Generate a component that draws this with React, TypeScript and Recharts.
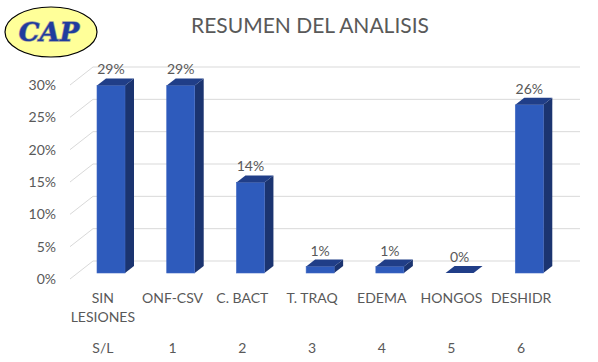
import React from "react";
import { Bar, BarChart, CartesianGrid, LabelList, XAxis, YAxis } from "recharts";

// values
const categories = ["SIN LESIONES", "ONF-CSV", "C. BACT", "T. TRAQ", "EDEMA", "HONGOS", "DESHIDR"];
const codes = ["S/L", "1", "2", "3", "4", "5", "6"];
const values = [0.29, 0.29, 0.14, 0.01, 0.01, 0, 0.26];
const yTicks = [0, 0.05, 0.1, 0.15, 0.2, 0.25, 0.3];

const data = categories.map((name, i) => ({ name, code: codes[i], value: values[i] }));

const FONT = "Lato, 'Open Sans', sans-serif";
const TEXT = "#595959";
const GRID = "#D9D9D9";

// 3D look: bar front is pushed back a bit, depth goes up-right
const BAR_DX = 8;
const BAR_DY = -6;
const DEPTH_X = 9;
const DEPTH_Y = -7;
// back wall offset for gridlines
const WALL_DX = 25;
const WALL_DY = -18;

function Bar3D(props: any) {
  const { x, y, width, height } = props;
  const fx = x + BAR_DX;
  const fy = y + BAR_DY;
  const h = Math.max(height, 0);
  const top = `${fx},${fy} ${fx + width},${fy} ${fx + width + DEPTH_X},${fy + DEPTH_Y} ${fx + DEPTH_X},${fy + DEPTH_Y}`;
  const side = `${fx + width},${fy} ${fx + width + DEPTH_X},${fy + DEPTH_Y} ${fx + width + DEPTH_X},${fy + DEPTH_Y + h} ${fx + width},${fy + h}`;
  return (
    <g>
      {h > 0 && <polygon points={side} fill="#1B3470" />}
      {h > 0 && <rect x={fx} y={fy} width={width} height={h} fill="#2E5BBC" stroke="#4169C4" strokeWidth={0.6} />}
      <polygon points={top} fill="#203E88" />
    </g>
  );
}

function GridLine(props: any) {
  const { x1, x2, y1 } = props;
  return (
    <g>
      <line x1={x1 + 2} y1={y1} x2={x1 + WALL_DX} y2={y1 + WALL_DY} stroke={GRID} strokeWidth={1} />
      <line x1={x1 + WALL_DX} y1={y1 + WALL_DY} x2={x2 + WALL_DX - 1} y2={y1 + WALL_DY} stroke={GRID} strokeWidth={1} />
    </g>
  );
}

function CatTick(props: any) {
  const { x, y, payload, index } = props;
  const lines = payload.value === "SIN LESIONES" ? ["SIN", "LESIONES"] : [payload.value];
  return (
    <g fontFamily={FONT} fontSize={14} fill={TEXT} textAnchor="middle">
      {lines.map((l: string, i: number) => (
        <text key={i} x={x} y={y + 16 + i * 19}>{l}</text>
      ))}
      <text x={x} y={y + 66}>{codes[index]}</text>
    </g>
  );
}

function ValueLabel(props: any) {
  const { x, y, width, value } = props;
  return (
    <text x={x + BAR_DX + width / 2} y={y + BAR_DY - 11} textAnchor="middle" fontFamily={FONT} fontSize={14} fill={TEXT}>
      {Math.round(value * 100)}%
    </text>
  );
}

export default function App() {
  return (
    <div style={{ position: "absolute", left: 0, top: 0, width: 598, height: 362, background: "#fff" }}>
      <BarChart width={598} height={362} data={data} margin={{ top: 85, right: 42, left: 18, bottom: 3 }} barSize={28}>
        <CartesianGrid vertical={false} horizontal={(p: any) => <GridLine key={p.key ?? p.index} {...p} />} />
        <XAxis dataKey="name" axisLine={false} tickLine={false} interval={0} height={80} tick={<CatTick />} />
        <YAxis
          domain={[0, 0.3]}
          ticks={yTicks}
          width={50}
          axisLine={false}
          tickLine={false}
          tickMargin={6}
          tickFormatter={(v: number) => `${Math.round(v * 100)}%`}
          tick={{ fontFamily: FONT, fontSize: 14, fill: TEXT }}
        />
        <Bar dataKey="value" shape={<Bar3D />} isAnimationActive={false}>
          <LabelList dataKey="value" content={<ValueLabel />} />
        </Bar>
      </BarChart>
      <svg width={598} height={362} style={{ position: "absolute", left: 0, top: 0, pointerEvents: "none" }}>
        <text x={310} y={33} textAnchor="middle" fontFamily={FONT} fontSize={21} fill={TEXT}>
          RESUMEN DEL ANALISIS
        </text>
        <ellipse cx={51} cy={32} rx={46} ry={25} fill="#FFFF99" stroke="#000" strokeWidth={1.2} />
        <text
          x={49}
          y={41}
          textAnchor="middle"
          fontFamily="'DejaVu Serif', serif"
          fontStyle="italic"
          fontWeight="bold"
          fontSize={26}
          fill="#1F3C9E"
          stroke="#9a9a9a"
          strokeWidth={1.4}
          paintOrder="stroke"
        >
          CAP
        </text>
      </svg>
    </div>
  );
}
